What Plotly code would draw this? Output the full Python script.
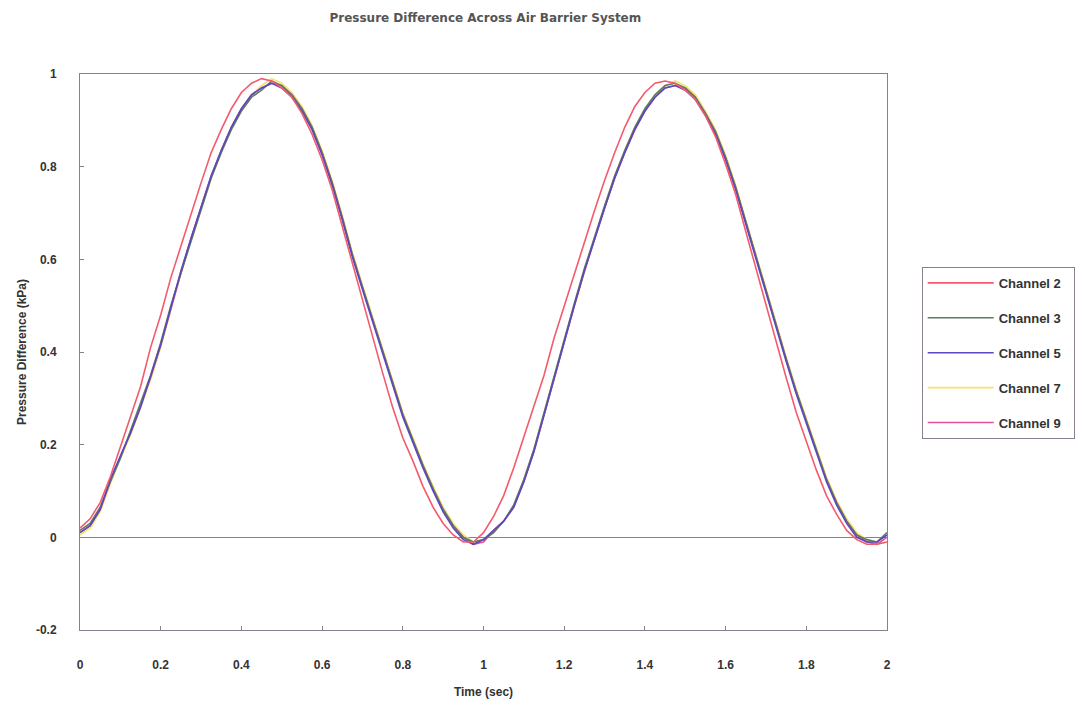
import plotly.graph_objects as go

time_s = [0.000, 0.025, 0.050, 0.075, 0.100, 0.125, 0.150, 0.175, 0.200, 0.225,
          0.250, 0.275, 0.300, 0.325, 0.350, 0.375, 0.400, 0.425, 0.450, 0.475,
          0.500, 0.525, 0.550, 0.575, 0.600, 0.625, 0.650, 0.675, 0.700, 0.725,
          0.750, 0.775, 0.800, 0.825, 0.850, 0.875, 0.900, 0.925, 0.950, 0.975,
          1.000, 1.025, 1.050, 1.075, 1.100, 1.125, 1.150, 1.175, 1.200, 1.225,
          1.250, 1.275, 1.300, 1.325, 1.350, 1.375, 1.400, 1.425, 1.450, 1.475,
          1.500, 1.525, 1.550, 1.575, 1.600, 1.625, 1.650, 1.675, 1.700, 1.725,
          1.750, 1.775, 1.800, 1.825, 1.850, 1.875, 1.900, 1.925, 1.950, 1.975,
          2.000]

channel_2 = [0.02, 0.04, 0.075, 0.13, 0.195, 0.26, 0.325, 0.41, 0.48, 0.56,
             0.63, 0.70, 0.765, 0.83, 0.88, 0.925, 0.96, 0.98, 0.99, 0.985,
             0.97, 0.95, 0.915, 0.87, 0.815, 0.75, 0.67, 0.59, 0.51, 0.43,
             0.355, 0.28, 0.215, 0.165, 0.11, 0.065, 0.03, 0.005, -0.01, -0.01,
             0.01, 0.045, 0.09, 0.15, 0.215, 0.28, 0.35, 0.43, 0.50, 0.57,
             0.64, 0.705, 0.77, 0.83, 0.885, 0.93, 0.96, 0.98, 0.985, 0.98,
             0.965, 0.945, 0.91, 0.865, 0.805, 0.74, 0.66, 0.58, 0.50, 0.42,
             0.345, 0.27, 0.205, 0.145, 0.09, 0.05, 0.015, -0.005, -0.015, -0.015,
             -0.01]

channel_3 = [0.015, 0.03, 0.065, 0.12, 0.17, 0.23, 0.29, 0.35, 0.42, 0.50,
             0.57, 0.64, 0.71, 0.775, 0.83, 0.88, 0.92, 0.95, 0.965, 0.985,
             0.975, 0.955, 0.925, 0.885, 0.83, 0.765, 0.69, 0.61, 0.54, 0.47,
             0.405, 0.335, 0.265, 0.21, 0.155, 0.105, 0.06, 0.025, 0.0, -0.01,
             -0.005, 0.01, 0.035, 0.07, 0.125, 0.19, 0.27, 0.345, 0.43, 0.505,
             0.58, 0.65, 0.715, 0.78, 0.835, 0.885, 0.925, 0.955, 0.975, 0.98,
             0.97, 0.95, 0.915, 0.875, 0.82, 0.755, 0.68, 0.605, 0.53, 0.455,
             0.385, 0.315, 0.25, 0.185, 0.125, 0.075, 0.035, 0.005, -0.005, -0.01,
             0.01]

channel_5 = [0.01, 0.025, 0.06, 0.125, 0.175, 0.225, 0.28, 0.345, 0.415, 0.495,
             0.575, 0.645, 0.715, 0.78, 0.835, 0.885, 0.925, 0.955, 0.97, 0.98,
             0.97, 0.95, 0.92, 0.88, 0.825, 0.76, 0.685, 0.605, 0.535, 0.465,
             0.40, 0.33, 0.26, 0.205, 0.15, 0.10, 0.055, 0.02, -0.005, -0.015,
             -0.005, 0.015, 0.035, 0.065, 0.12, 0.185, 0.265, 0.34, 0.425, 0.50,
             0.575, 0.645, 0.71, 0.775, 0.83, 0.88, 0.92, 0.95, 0.97, 0.975,
             0.965, 0.945, 0.91, 0.87, 0.815, 0.75, 0.675, 0.60, 0.525, 0.45,
             0.38, 0.31, 0.245, 0.18, 0.12, 0.07, 0.03, 0.0, -0.01, -0.01,
             0.005]

channel_7 = [0.005, 0.02, 0.055, 0.115, 0.17, 0.22, 0.28, 0.34, 0.41, 0.49,
             0.57, 0.64, 0.71, 0.775, 0.835, 0.885, 0.925, 0.955, 0.975, 0.99,
             0.98, 0.96, 0.93, 0.89, 0.835, 0.77, 0.695, 0.615, 0.545, 0.475,
             0.41, 0.34, 0.27, 0.215, 0.16, 0.11, 0.065, 0.03, 0.005, -0.01,
             -0.005, 0.01, 0.035, 0.065, 0.125, 0.19, 0.265, 0.345, 0.425, 0.50,
             0.575, 0.645, 0.715, 0.78, 0.835, 0.885, 0.925, 0.955, 0.975, 0.985,
             0.975, 0.955, 0.92, 0.88, 0.825, 0.76, 0.685, 0.61, 0.535, 0.46,
             0.39, 0.32, 0.255, 0.19, 0.13, 0.08, 0.04, 0.01, -0.005, -0.015,
             -0.01]

channel_9 = [0.01, 0.025, 0.06, 0.12, 0.175, 0.225, 0.285, 0.345, 0.415, 0.495,
             0.57, 0.645, 0.715, 0.78, 0.835, 0.885, 0.925, 0.955, 0.97, 0.98,
             0.975, 0.955, 0.925, 0.885, 0.83, 0.765, 0.69, 0.61, 0.54, 0.47,
             0.405, 0.335, 0.265, 0.21, 0.155, 0.105, 0.06, 0.025, 0.0, -0.015,
             -0.01, 0.015, 0.035, 0.065, 0.12, 0.185, 0.265, 0.34, 0.425, 0.50,
             0.575, 0.645, 0.71, 0.775, 0.83, 0.88, 0.92, 0.95, 0.97, 0.975,
             0.97, 0.95, 0.915, 0.875, 0.82, 0.755, 0.68, 0.605, 0.53, 0.455,
             0.385, 0.315, 0.25, 0.185, 0.125, 0.075, 0.035, 0.005, -0.01, -0.015,
             0.0]

x_ticks = [0, 0.2, 0.4, 0.6, 0.8, 1, 1.2, 1.4, 1.6, 1.8, 2]
x_tick_text = ["0", "0.2", "0.4", "0.6", "0.8", "1", "1.2", "1.4", "1.6", "1.8", "2"]
y_ticks = [-0.2, 0, 0.2, 0.4, 0.6, 0.8, 1]
y_tick_text = ["-0.2", "0", "0.2", "0.4", "0.6", "0.8", "1"]

series = [
    ("Channel 7", channel_7, "#f2e46a", 4),
    ("Channel 9", channel_9, "#e0509c", 5),
    ("Channel 3", channel_3, "#5f7a62", 2),
    ("Channel 5", channel_5, "#5a48c0", 3),
    ("Channel 2", channel_2, "#f45a6c", 1),
]

axis_color = "#8a7f90"
text_color = "#333333"
font_family = "Liberation Sans, Arial, sans-serif"

fig = go.Figure()
for name, vals, color, rank in series:
    fig.add_trace(go.Scatter(
        x=time_s, y=vals, name="<b>" + name + "</b>\u00a0\u00a0", mode="lines",
        line=dict(color=color, width=1.6),
        legendrank=rank, legendgroup=name,
    ))

fig.update_layout(
    width=1081, height=701,
    margin=dict(l=80, r=194, t=74, b=71, autoexpand=False),
    paper_bgcolor="white", plot_bgcolor="white",
    font=dict(family=font_family, color=text_color, size=12),
    title=dict(
        text="<b>Pressure Difference Across Air Barrier System</b>",
        x=0.449, xanchor="center", y=0.974, yanchor="middle",
        font=dict(size=12, color="#555555", family="DejaVu Sans, sans-serif"),
    ),
    legend=dict(
        x=1.043, xanchor="left", y=0.653, yanchor="top",
        bordercolor=axis_color, borderwidth=1, bgcolor="white",
        font=dict(size=13, color=text_color, family=font_family),
        tracegroupgap=15, itemwidth=66,
    ),
    showlegend=True,
)

fig.update_xaxes(
    range=[0, 2], tickvals=x_ticks, ticktext=[f"<b>{t}</b>" for t in x_tick_text],
    showgrid=False, zeroline=False, automargin=False,
    showline=True, mirror=True, linecolor=axis_color, linewidth=1,
    ticks="inside", ticklen=4, tickcolor=axis_color,
    ticklabelstandoff=24,
    title=dict(text="<b>Time (sec)</b>", standoff=16, font=dict(size=12)),
)
fig.update_yaxes(
    range=[-0.2, 1], tickvals=y_ticks, ticktext=[f"<b>{t}</b>" for t in y_tick_text],
    showgrid=False, zeroline=True, zerolinecolor=axis_color, zerolinewidth=1,
    showline=True, mirror=True, linecolor=axis_color, linewidth=1, automargin=False,
    ticks="inside", ticklen=4, tickcolor=axis_color,
    ticklabelstandoff=20,
    title=dict(text="<b>Pressure Difference (kPa)</b>", standoff=6, font=dict(size=12)),
)

fig.write_html("out.html")
